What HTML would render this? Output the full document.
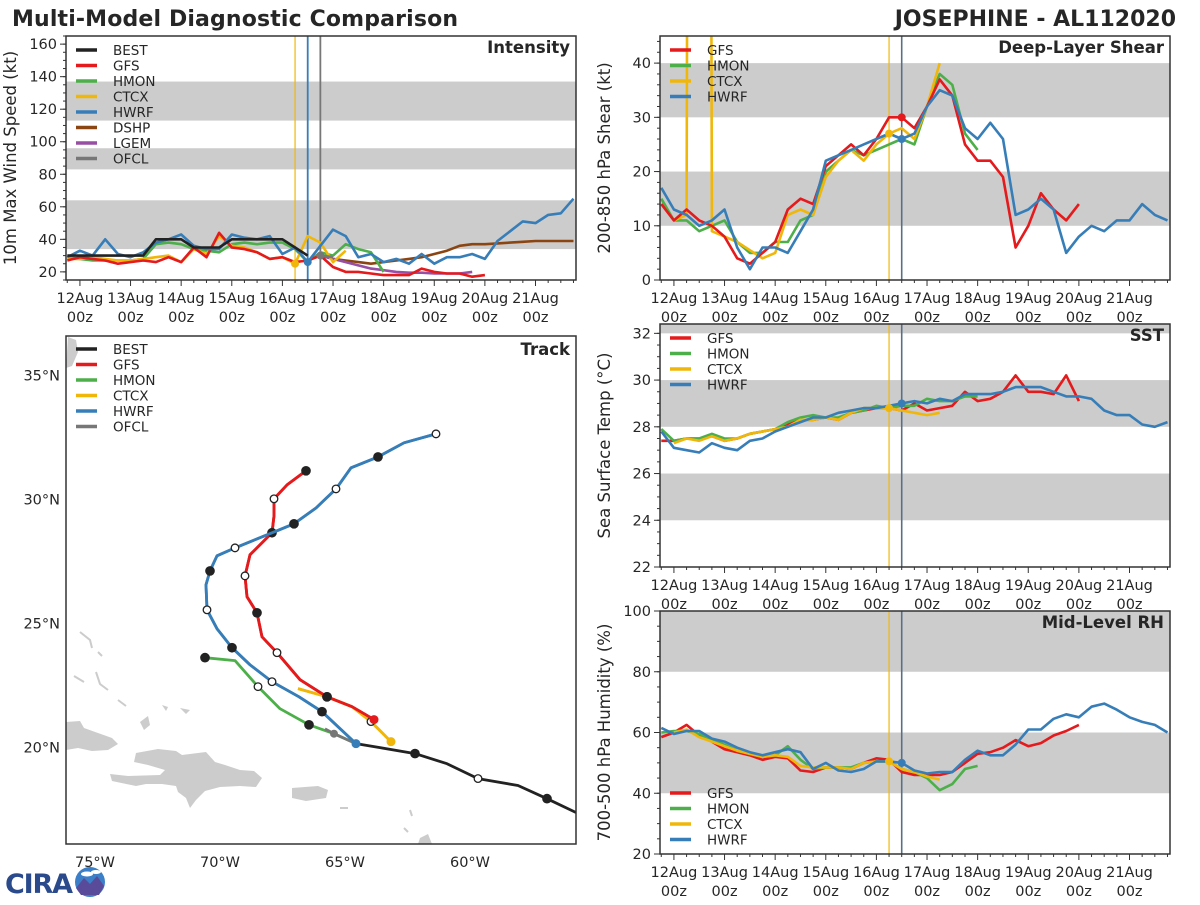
<!DOCTYPE html>
<html><head><meta charset="utf-8"><style>
html,body{margin:0;padding:0;background:#fff;}
svg text{font-family:"DejaVu Sans","Liberation Sans",sans-serif;fill:#262626;}
</style></head><body>
<svg id="fig" xmlns="http://www.w3.org/2000/svg" width="1200" height="900" viewBox="0 0 1200 900">
<rect width="1200" height="900" fill="#fff"/>
<text x="12" y="26" font-size="22" font-weight="bold" textLength="446">Multi-Model Diagnostic Comparison</text>
<text x="1176" y="26" font-size="22" font-weight="bold" text-anchor="end">JOSEPHINE - AL112020</text>
<g id="logo">
<text x="5" y="893" font-size="27" font-weight="bold" style="fill:#2a4a8c" font-family="Liberation Serif" textLength="68">CIRA</text>
<circle cx="90" cy="882" r="15" fill="#3a7fc8"/>
<path d="M76,888 L84,878 L90,884 L97,876 L104,886 L99,895 L81,895 Z" fill="#5a4a9a"/>
<ellipse cx="87" cy="874" rx="6" ry="2.5" fill="#fff"/><ellipse cx="96" cy="872" rx="5" ry="2" fill="#fff"/>
</g>
</svg>
<script>
// ---------- DATA ----------
const N = n => Array(n).fill(null);
const dayLabels = ["12Aug","13Aug","14Aug","15Aug","16Aug","17Aug","18Aug","19Aug","20Aug","21Aug"];
// intensity (kt), 6-hourly starting 11Aug 18z
const intBEST = [30,30,30,30,30,30,30,40,40,40,35,35,35,40,40,40,40,40,35,30];
const intGFS  = [27,29,28,27,25,26,27,26,29,26,35,29,44,35,34,32,28,29,26,27,30,23,20,20,19,18,18,18,22,20,19,19,17,18];
const intHMON = [29,28,27,27,27,27,28,37,38,37,34,33,32,37,38,37,38,38,34,26,32,30,37,34,32,20];
const intCTCX = [28,28,29,28,27,27,28,29,30,26,34,31,42,36,35,32,28,29,25,42,38,26,33];
const intHWRF = [29,33,30,40,31,29,32,38,40,43,36,34,34,43,41,40,42,31,35,26,36,46,42,29,31,26,28,25,31,25,29,29,31,28,39,45,51,50,55,56,65];
const intDSHP = [...N(20),30,28,27,26,25,26,27,28,29,31,33,36,37,37,37.5,38,38.5,39,39,39,39];
const intLGEM = [...N(20),30,28,26,24,22,21,20,19.5,19.5,19,19,19,20];
const intOFCL = [...N(20),30,29];
// shear (kt)
const shrGFS  = [14,11,13,11,10,8,4,3,5,7,13,15,14,21,23,25,23,26,30,30,28,32,37,34,25,22,22,19,6,10,16,13,11,14];
const shrHMON = [15,11,11,9,10,11,7,5,5,7,7,11,12,20,22,24,23,24,25,26,25,32,38,36,27,24];
const shrCTCX = [null,11,12,999,9,8,7,5.5,4,5,12,13,12,19,22,24,22,25,27,28,26,32,40];
const shrHWRF = [17,13,12,10,11,13,6,2,6,6,5,9,13,22,23,24,25,26,27,26,27,32,35,34,28,26,29,26,12,13,15,13,5,8,10,9,11,11,14,12,11];
// SST (C)
const sstGFS  = [27.4,27.4,27.5,27.5,27.6,27.4,27.5,27.7,27.8,27.9,28.1,28.3,28.3,28.4,28.3,28.6,28.7,28.8,28.8,28.7,29.0,28.7,28.8,28.9,29.5,29.1,29.2,29.5,30.2,29.5,29.5,29.4,30.2,29.1];
const sstHMON = [27.9,27.4,27.5,27.5,27.7,27.5,27.5,27.7,27.8,27.9,28.2,28.4,28.5,28.4,28.4,28.6,28.7,28.9,28.8,28.9,28.9,29.2,29.1,29.1,29.3,29.3];
const sstCTCX = [null,27.3,27.5,27.4,27.6,27.4,27.5,27.7,27.8,27.9,28.0,28.3,28.3,28.4,28.3,28.6,28.8,28.8,28.8,28.7,28.6,28.5,28.6];
const sstHWRF = [27.8,27.1,27.0,26.9,27.3,27.1,27.0,27.4,27.5,27.8,28.0,28.2,28.4,28.4,28.6,28.7,28.8,28.8,28.9,29.0,29.1,29.0,29.2,29.1,29.4,29.4,29.4,29.5,29.7,29.7,29.7,29.5,29.3,29.3,29.2,28.7,28.5,28.5,28.1,28.0,28.2];
// RH (%)
const rhGFS  = [58.5,60,62.5,59,57,54.5,53.5,52.5,51,52,51.5,47.5,47,48.5,48.5,48,50,51.5,51,47,46,46,46,47,50,53,53.5,55,57.5,55.5,56.5,59,60.5,62.5];
const rhHMON = [60,60.5,60.5,59.5,57.5,56,54,53,52,52.5,55.5,51,48,48.5,48.5,48.5,50,50.5,50.5,48,47,45,41,43,48,49];
const rhCTCX = [null,60,61,58.5,57,55.5,54,53,52,52.5,52,49,48.5,48.5,48.5,48,50,50.5,50.5,48,47,45.5,44.5];
const rhHWRF = [61.5,59.5,60.5,60.5,58,57,55,53.5,52.5,53.5,54.5,53.5,48,50,47.5,47,48,50.5,50.5,50,47.5,46.5,47,47,51,54,52.5,52.5,56,61,61,64.5,66,65,68.5,69.5,67.5,65,63.5,62.5,60];
// track (deg)
const trkBEST_lon = [-55.76,-56.92,-58.08,-59.68,-60.92,-62.2,-63.6,-64.56];
const trkBEST_lat = [17.37,17.93,18.46,18.74,19.34,19.75,19.99,20.15];
const trkBEST_mk  = [0,1,0,2,0,1,0,0];
const trkHWRF_lon = [-64.56,-65.92,-66.84,-67.92,-68.8,-69.52,-70.12,-70.52,-70.56,-70.4,-70.12,-69.4,-67.92,-67.04,-66.16,-65.36,-64.76,-63.68,-62.64,-61.36];
const trkHWRF_lat = [20.15,21.44,22.04,22.65,23.33,24.02,24.79,25.55,26.56,27.12,27.73,28.05,28.66,29.02,29.66,30.43,31.28,31.72,32.29,32.65];
const trkHWRF_mk  = [0,1,0,2,0,1,0,2,0,1,0,2,0,1,0,2,0,1,0,2];
const trkGFS_lon = [-63.84,-64.72,-65.72,-66.8,-67.72,-68.32,-68.52,-68.92,-69.0,-68.8,-67.92,-67.84,-67.84,-67.32,-66.56];
const trkGFS_lat = [21.12,21.64,22.04,22.73,23.82,24.46,25.43,26.08,26.92,27.77,28.66,29.34,30.03,30.59,31.16];
const trkGFS_mk  = [0,0,1,0,2,0,1,0,2,0,1,0,2,0,1];
const trkHMON_lon = [-64.56,-65.44,-66.44,-67.6,-68.48,-69.4,-70.6];
const trkHMON_lat = [20.15,20.55,20.91,21.56,22.45,23.5,23.62];
const trkHMON_mk  = [0,0,1,0,2,0,1];
const trkCTCX_lon = [-63.16,-63.96,-64.72,-65.72,-66.88];
const trkCTCX_lat = [20.23,21.04,21.64,22.04,22.37];
const trkCTCX_mk  = [0,2,0,1,0];
const trkOFCL_lon = [-64.56,-65.44,-65.8];
const trkOFCL_lat = [20.15,20.55,20.75];

// ---------- DRAWING ----------
const C = {BEST:"#222222",GFS:"#e41a1c",HMON:"#4daf4a",CTCX:"#f0b70a",HWRF:"#377eb8",DSHP:"#8b4513",LGEM:"#984ea3",OFCL:"#777777"};
const svg = document.getElementById('fig');
const NS = "http://www.w3.org/2000/svg";
function mk(tag, attrs, parent){ const e=document.createElementNS(NS,tag); for(const k in attrs) e.setAttribute(k,attrs[k]); (parent||svg).appendChild(e); return e; }
const XMIN=-0.275, XMAX=9.8;

function panel(id, L,T,R,B, ymin,ymax, bands, yticks, yminor, ylabel, title, series, vlines, dots, legendNames, legendY){
  const g = mk('g',{});
  
  
  const xs = d => L + (d-XMIN)/(XMAX-XMIN)*(R-L);
  const ys = v => B - (v-ymin)/(ymax-ymin)*(B-T);
  const cp = mk('clipPath',{id:'cp-'+id},g); mk('rect',{x:L,y:T,width:R-L,height:B-T},cp);
  bands.forEach(b=>{ const r=mk('rect',{x:L,y:ys(Math.min(b[1],ymax)),width:R-L,height:ys(b[0])-ys(Math.min(b[1],ymax)),fill:'#cccccc'},g);
      });
  const cg = mk('g',{'clip-path':'url(#cp-'+id+')'},g);
  vlines.forEach(v=>{ const l=mk('line',{x1:xs(v[0]),x2:xs(v[0]),y1:T,y2:B,stroke:v[1],'stroke-width':v[2]||1.5},cg);
      });
  series.forEach(s=>{
    let d='', pen=false;
    s[1].forEach((v,i)=>{ if(v===null){pen=false;return;} const x=xs(-0.25+0.25*i), y=ys(v); d+=(pen?'L':'M')+x.toFixed(1)+','+y.toFixed(1); pen=true; });
    const p=mk('path',{d:d,fill:'none',stroke:C[s[0]],'stroke-width':2.6,'stroke-linejoin':'round'},cg);
     
  });
  dots.forEach(dd=>{ const arr=dd[1]; const i=Math.round((dd[2]+0.25)/0.25); const c=mk('circle',{cx:xs(dd[2]),cy:ys(arr[i]),r:4,fill:C[dd[0]]},cg);
      });
  mk('rect',{x:L,y:T,width:R-L,height:B-T,fill:'none',stroke:'#333','stroke-width':1.5},g);
  for(let h=0; h*0.25<=XMAX; h++){ const d=h*0.25; const x=xs(d); const major=(h%4===0);
    mk('line',{x1:x,x2:x,y1:B,y2:B+(major?6:3),stroke:'#333','stroke-width':1},g); }
  { const x=xs(-0.25); if(x>=L) mk('line',{x1:x,x2:x,y1:B,y2:B+3,stroke:'#333'},g); }
  dayLabels.forEach((lab,i)=>{ const x=xs(i);
    const t=mk('text',{x:x,y:B+23,'font-size':14.5,'text-anchor':'middle'},g); t.textContent=lab;
     
    const t2=mk('text',{x:x,y:B+42,'font-size':14.5,'text-anchor':'middle'},g); t2.textContent='00z';
      });
  for(let v=ymin; v<=ymax+1e-6; v+=yminor){ const y=ys(v); mk('line',{x1:L-3,x2:L,y1:y,y2:y,stroke:'#333'},g); }
  yticks.forEach(v=>{ const y=ys(v); mk('line',{x1:L-6,x2:L,y1:y,y2:y,stroke:'#333'},g);
    const t=mk('text',{x:L-9,y:y+5,'font-size':14.5,'text-anchor':'end'},g); t.textContent=v;
      });
  const yl=mk('text',{x:0,y:0,'font-size':16.5,'text-anchor':'middle',transform:`translate(${L-50},${(T+B)/2}) rotate(-90)`},g);
  yl.textContent=ylabel;  
  const tt=mk('text',{x:R-6,y:T+17,'font-size':16.5,'font-weight':'bold','text-anchor':'end'},g);
  tt.textContent=title;  
  legend(g, L+10, legendY, legendNames);
}
function legend(g, x, y0, names){
  names.forEach((n,i)=>{ const y=y0+i*15.5;
    const l=mk('line',{x1:x,x2:x+21,y1:y,y2:y,stroke:C[n],'stroke-width':3.5},g);
     
    const t=mk('text',{x:x+37,y:y+5,'font-size':13.5},g); t.textContent=n;
      });
}
const VL=[[4.25,'#f0b70a',1.2],[4.5,'#377eb8',1.8],[4.75,'#777777',1.8]];
const VR=[[4.25,'#f0b70a',1.2],[4.5,'#5a6f85',1.6]];
panel('intensity',66,36,576,280,15,165,[[34,64],[83,96],[113,137]],[20,40,60,80,100,120,140,160],5,'10m Max Wind Speed (kt)','Intensity',
  [['DSHP',intDSHP],['LGEM',intLGEM],['HMON',intHMON],['CTCX',intCTCX],['GFS',intGFS],['HWRF',intHWRF],['BEST',intBEST],['OFCL',intOFCL]],
  VL,[['CTCX',intCTCX,4.25],['HWRF',intHWRF,4.5],['OFCL',intOFCL,4.75]],['BEST','GFS','HMON','CTCX','HWRF','DSHP','LGEM','OFCL'],50);
panel('shear',660,36,1170,280,0,45,[[10,20],[30,40]],[0,10,20,30,40],2,'200-850 hPa Shear (kt)','Deep-Layer Shear',
  [['HMON',shrHMON],['CTCX',shrCTCX],['GFS',shrGFS],['HWRF',shrHWRF]],VR,[['GFS',shrGFS,4.5],['CTCX',shrCTCX,4.25],['HWRF',shrHWRF,4.5]],['GFS','HMON','CTCX','HWRF'],50);
panel('sst',660,324,1170,567,22,32.4,[[24,26],[28,30],[32,33]],[22,24,26,28,30,32],0.5,'Sea Surface Temp (°C)','SST',
  [['GFS',sstGFS],['HMON',sstHMON],['CTCX',sstCTCX],['HWRF',sstHWRF]],VR,[['CTCX',sstCTCX,4.25],['HWRF',sstHWRF,4.5]],['GFS','HMON','CTCX','HWRF'],338);
panel('rh',660,611,1170,854,20,100,[[40,60],[80,100]],[20,40,60,80,100],5,'700-500 hPa Humidity (%)','Mid-Level RH',
  [['GFS',rhGFS],['HMON',rhHMON],['CTCX',rhCTCX],['HWRF',rhHWRF]],VR,[['CTCX',rhCTCX,4.25],['HWRF',rhHWRF,4.5]],['GFS','HMON','CTCX','HWRF'],793);

// ---------- TRACK ----------
(function(){
  const L=66,T=336,R=576,B=844, LON0=-76.16, LON1=-55.76, LAT0=16.1, LAT1=36.6;
  const xs=lo=>L+(lo-LON0)/(LON1-LON0)*(R-L), ys=la=>B-(la-LAT0)/(LAT1-LAT0)*(B-T);
  const g=mk('g',{});  
  const cp=mk('clipPath',{id:'cp-trk'},g); mk('rect',{x:L,y:T,width:R-L,height:B-T},cp);
  const cg=mk('g',{'clip-path':'url(#cp-trk)'},g);
  const land=mk('g',{fill:'#cccccc'},cg);  
  ['M66,722 L80,721 L84,728 L98,733 L112,738 L118,744 L108,750 L92,751 L78,748 L66,750 Z',
   'M136,753 L158,749 L176,751 L182,755 L206,752 L215,762 L225,765 L240,770 L254,771 L262,778 L256,787 L240,786 L220,787 L205,791 L196,800 L190,808 L186,798 L178,792 L176,786 L162,784 L146,784 L136,786 L112,781 L110,774 L128,776 L160,775 L165,770 L148,765 L134,762 Z',
   'M292,788 L318,786 L328,790 L326,798 L306,801 L292,798 Z',
   'M140,722 L148,716 L150,725 L144,730 Z','M180,708 L190,710 L186,714 Z','M162,705 L168,707 L166,711 Z',
   'M68,337 L76,340 L78,352 L72,366 L66,368 Z','M420,838 L428,834 L432,844 L418,844 Z'].forEach(d=>mk('path',{d:d},land));
  ['M80,632 L90,640 L92,648','M96,672 L100,684 L108,690','M74,676 L84,682','M118,700 L126,706','M98,652 L102,656','M410,810 L412,816','M404,828 L408,832','M340,808 L348,808'].forEach(d=>mk('path',{d:d,stroke:'#cccccc','stroke-width':2,fill:'none'},land));
  function track(name,lon,lat,mkArr){
    let d=''; lon.forEach((v,i)=>{ d+=(i?'L':'M')+xs(v).toFixed(1)+','+ys(lat[i]).toFixed(1); });
    const p=mk('path',{d:d,fill:'none',stroke:C[name],'stroke-width':2.8,'stroke-linejoin':'round'},cg);
     
    if(mkArr) mkArr.forEach((m,i)=>{ if(!m) return;
      const c=mk('circle',{cx:xs(lon[i]),cy:ys(lat[i]),r:m===1?4.2:3.8,fill:m===1?'#222':'#fff',stroke:'#222','stroke-width':1.3},cg);
        });
  }
  track('BEST',trkBEST_lon,trkBEST_lat,trkBEST_mk);
  track('HMON',trkHMON_lon,trkHMON_lat,trkHMON_mk);
  track('OFCL',trkOFCL_lon,trkOFCL_lat,null);
  track('CTCX',trkCTCX_lon,trkCTCX_lat,null);
  track('GFS',trkGFS_lon,trkGFS_lat,null);
  track('HWRF',trkHWRF_lon,trkHWRF_lat,null);
  track('CTCX',trkCTCX_lon,trkCTCX_lat,trkCTCX_mk);
  track('GFS',trkGFS_lon,trkGFS_lat,trkGFS_mk);
  track('HWRF',trkHWRF_lon,trkHWRF_lat,trkHWRF_mk);
  [['GFS',trkGFS_lon,trkGFS_lat],['CTCX',trkCTCX_lon,trkCTCX_lat],['HWRF',trkHWRF_lon,trkHWRF_lat]].forEach(s=>{
    const c=mk('circle',{cx:xs(s[1][0]),cy:ys(s[2][0]),r:4.5,fill:C[s[0]]},cg);
      });
  const oc=mk('circle',{cx:xs(trkOFCL_lon[1]),cy:ys(trkOFCL_lat[1]),r:4,fill:C.OFCL},cg);
   
  mk('rect',{x:L,y:T,width:R-L,height:B-T,fill:'none',stroke:'#333','stroke-width':1.5},g);
  [35,30,25,20].forEach(la=>{ const t=mk('text',{x:L-6,y:ys(la)+5,'font-size':14.5,'text-anchor':'end'},g); t.textContent=la+'°N';
      });
  [75,70,65,60].forEach(lo=>{ const t=mk('text',{x:xs(-lo),y:B+23,'font-size':14.5,'text-anchor':'middle'},g); t.textContent=lo+'°W';
      });
  const tt=mk('text',{x:R-6,y:T+19,'font-size':16.5,'font-weight':'bold','text-anchor':'end'},g);
  tt.textContent='Track';  
  legend(g, L+10, 349, ['BEST','GFS','HMON','CTCX','HWRF','OFCL']);
})();
svg.appendChild(document.getElementById('logo'));
</script>
</body></html>
